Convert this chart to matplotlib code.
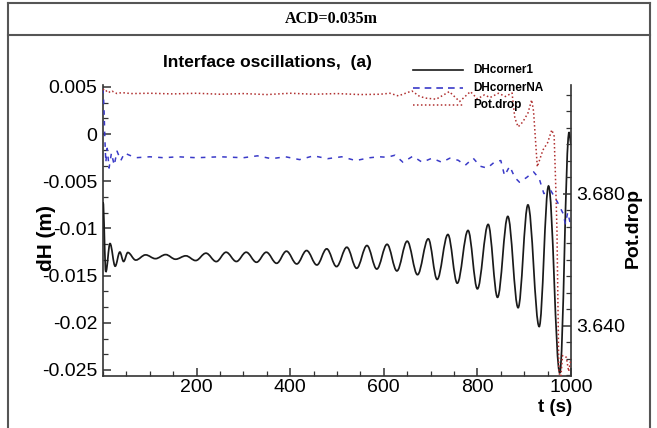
import matplotlib
matplotlib.use("Agg")
import matplotlib.pyplot as plt
from matplotlib.path import Path
from matplotlib.patches import PathPatch
from matplotlib.lines import Line2D
from matplotlib.ticker import FixedLocator, FixedFormatter, MultipleLocator, AutoMinorLocator

# ---------------- data ----------------
header_text = "ACD=0.035m"
title_text = "Interface oscillations,  (a)"
legend_labels = ["DHcorner1", "DHcornerNA", "Pot.drop"]

# DHcorner1 (left axis) : extrema
t_black = [0, 6, 15, 26, 36, 44, 53, 70, 91, 112, 134, 155, 177, 198, 220, 242,
           263, 285, 306, 328, 349, 371, 392, 414, 435, 457, 478, 499, 521, 542,
           564, 585, 607, 628, 650, 672, 695, 714, 737, 757, 780, 800, 823, 843,
           865, 887, 908, 932, 952, 976, 996, 1000]
v_black = [-0.0072, -0.0146, -0.0116, -0.0140, -0.0125, -0.0135, -0.01255, -0.01335,
           -0.0128, -0.0132, -0.01277, -0.01326, -0.0129, -0.0134, -0.01262, -0.01351,
           -0.01252, -0.0135, -0.01252, -0.01358, -0.01252, -0.01369, -0.01241, -0.01376,
           -0.01234, -0.01387, -0.01216, -0.01404, -0.01199, -0.01422, -0.01181, -0.0143,
           -0.01168, -0.0145, -0.01135, -0.0149, -0.0111, -0.0154, -0.01064, -0.0158,
           -0.01021, -0.0164, -0.00957, -0.0173, -0.00872, -0.0184, -0.0075, -0.0204,
           -0.0055, -0.0253, 0.0002, -0.0010]

# DHcornerNA (left axis)
t_blue = [0, 2, 4, 6, 9, 13, 18, 24, 30, 38, 46, 55, 70, 100, 130, 160, 200, 250,
          300, 330, 360, 390, 420, 450, 480, 510, 540, 570, 590, 607, 624, 641, 662,
          682, 703, 724, 741, 759, 774, 791, 806, 821, 838, 850, 858, 869, 880, 890,
          905, 920, 932, 942, 957, 971, 983, 988, 993, 1000]
v_blue = [0.0048, 0.0030, -0.0005, -0.0030, -0.0015, -0.0036, -0.0020, -0.0033,
          -0.0018, -0.0028, -0.0020, -0.0022, -0.0025, -0.0024, -0.0025, -0.0024,
          -0.0025, -0.0024, -0.0025, -0.0023, -0.0026, -0.0024, -0.0027, -0.0023,
          -0.0026, -0.0024, -0.0028, -0.0025, -0.0024, -0.00245, -0.00223, -0.00298,
          -0.00234, -0.00298, -0.00255, -0.00298, -0.00255, -0.00277, -0.0033,
          -0.00255, -0.0034, -0.0036, -0.0029, -0.0028, -0.0044, -0.0034, -0.0046,
          -0.0051, -0.0046, -0.0040, -0.0047, -0.0063, -0.0060, -0.0072, -0.0084,
          -0.0095, -0.0083, -0.0098]

# Pot.drop (right axis)
t_red = [0, 5, 10, 15, 20, 30, 40, 60, 100, 150, 200, 250, 300, 350, 400, 450, 500,
         550, 592, 613, 631, 660, 677, 691, 712, 740, 762, 785, 800, 815, 827, 845,
         860, 874, 880, 887, 897, 908, 916, 920, 928, 940, 950, 959, 964, 967, 970,
         974, 978, 982, 990, 995, 1000]
v_red = [3.7118, 3.7110, 3.7114, 3.7107, 3.7111, 3.7104, 3.7107, 3.7104, 3.7105,
         3.7103, 3.7105, 3.7102, 3.7104, 3.7101, 3.7105, 3.7102, 3.7104, 3.7101,
         3.7102, 3.7105, 3.7097, 3.7112, 3.7095, 3.7090, 3.7087, 3.7110, 3.7080,
         3.7110, 3.7088, 3.7100, 3.7092, 3.7105, 3.7095, 3.7106, 3.7030, 3.7003,
         3.7018, 3.7045, 3.7085, 3.7050, 3.6882, 3.6933, 3.6955, 3.6994, 3.6975,
         3.6842, 3.6691, 3.6260, 3.6240, 3.6310, 3.6305, 3.6262, 3.6300]

left_ticks = [0.005, 0.0, -0.005, -0.01, -0.015, -0.02, -0.025]
left_labels = ["0.005", "0", "-0.005", "-0.01", "-0.015", "-0.02", "-0.025"]
x_ticks = [200, 400, 600, 800, 1000]
x_labels = ["200", "400", "600", "800", "1000"]
right_ticks = [3.640, 3.680]
right_labels = ["3.640", "3.680"]

# ---------------- style ----------------
W, H = 657, 428
FONT = ["Liberation Sans", "DejaVu Sans"]
plt.rcParams["font.family"] = FONT

fig = plt.figure(figsize=(W / 100, H / 100), dpi=100)
fig.patch.set_facecolor("white")

def fx(px):
    return px / W

def fy(py):
    return 1 - py / H

# frame / header (table cell)
frame_c = "#555555"
for xs, ys in [([8, 8], [3, 428]), ([650, 650], [3, 428]), ([8, 650], [3, 3]), ([8, 650], [35, 35])]:
    fig.add_artist(Line2D([fx(x) for x in xs], [fy(y) for y in ys], color=frame_c, lw=1.5))
fig.text(fx(331), fy(19), header_text, ha="center", va="center",
         family=["Liberation Serif", "DejaVu Serif"], fontweight="bold", fontsize=11.5)

ax = fig.add_axes([fx(103), fy(376), fx(571) - fx(103), (376 - 85) / H])
ax.set_xlim(0, 1000)
ax.set_ylim(-0.02564, 0.00521)

# black curve: smooth path through extrema
verts = [(t_black[0], v_black[0])]
codes = [Path.MOVETO]
for i in range(len(t_black) - 1):
    d = t_black[i + 1] - t_black[i]
    verts += [(t_black[i] + 0.364 * d, v_black[i]),
              (t_black[i + 1] - 0.364 * d, v_black[i + 1]),
              (t_black[i + 1], v_black[i + 1])]
    codes += [Path.CURVE4] * 3
ax.add_patch(PathPatch(Path(verts, codes), fill=False, edgecolor="#1a1a1a", lw=1.25, zorder=3))

blue_c = "#3a3ac8"
red_c = "#b03030"
ax.plot(t_blue, v_blue, color=blue_c, lw=1.1, dashes=(3, 4), zorder=3)

ax2 = ax.twinx()
ax2.set_ylim(3.6248, 3.713)
ax2.plot(t_red, v_red, color=red_c, lw=1.1, dashes=(1, 1.6), zorder=3)

for a in (ax, ax2):
    a.spines["top"].set_visible(False)
    for s in ("left", "right", "bottom"):
        a.spines[s].set_color("#333333")
        a.spines[s].set_linewidth(1.2)
    a.patch.set_visible(False)
ax2.spines["left"].set_visible(False)
ax2.spines["bottom"].set_visible(False)
ax.spines["right"].set_visible(False)

tick_fs = 14
ax.yaxis.set_major_locator(FixedLocator(left_ticks))
ax.yaxis.set_major_formatter(FixedFormatter(left_labels))
ax.yaxis.set_minor_locator(AutoMinorLocator(3))
ax.xaxis.set_major_locator(FixedLocator(x_ticks))
ax.xaxis.set_major_formatter(FixedFormatter(x_labels))
ax.xaxis.set_minor_locator(MultipleLocator(50))
ax.tick_params(which="both", direction="in", colors="#333333", labelcolor="black",
               labelsize=tick_fs, top=False, right=False)
ax.tick_params(which="major", length=6, width=1.1)
ax.tick_params(which="minor", length=3.5, width=0.9)
ax.tick_params(axis="y", pad=4)
ax.tick_params(axis="x", pad=2)

ax2.yaxis.set_major_locator(FixedLocator(right_ticks))
ax2.yaxis.set_major_formatter(FixedFormatter(right_labels))
ax2.yaxis.set_minor_locator(MultipleLocator(0.005))
ax2.tick_params(which="both", direction="in", colors="#333333", labelcolor="black",
                labelsize=tick_fs)
ax2.tick_params(which="major", length=6, width=1.1)
ax2.tick_params(which="minor", length=3.5, width=0.9)

# axis labels
fig.text(fx(46), fy(238), "dH (m)", rotation=90, ha="center", va="center",
         fontsize=15, fontweight="bold")
fig.text(fx(633), fy(228), "Pot.drop", rotation=90, ha="center", va="center",
         fontsize=14, fontweight="bold")
fig.text(fx(555), fy(407), "t (s)", ha="center", va="center", fontsize=13.5, fontweight="bold")
fig.text(fx(267), fy(62), title_text, ha="center", va="center", fontsize=12.5, fontweight="bold")

# legend (manual, top right)
rows = [70, 88, 105]
styles = [dict(color="#1a1a1a", lw=1.2),
          dict(color=blue_c, lw=1.2, dashes=(4, 3)),
          dict(color=red_c, lw=1.1, dashes=(1, 1.6))]
for y, lab, st in zip(rows, legend_labels, styles):
    fig.add_artist(Line2D([fx(413), fx(463)], [fy(y), fy(y)], zorder=5, **st))
    fig.text(fx(473), fy(y), lab, ha="left", va="center", fontsize=8.5,
             fontweight="bold", zorder=5)

fig.savefig("out.png", dpi=100)
